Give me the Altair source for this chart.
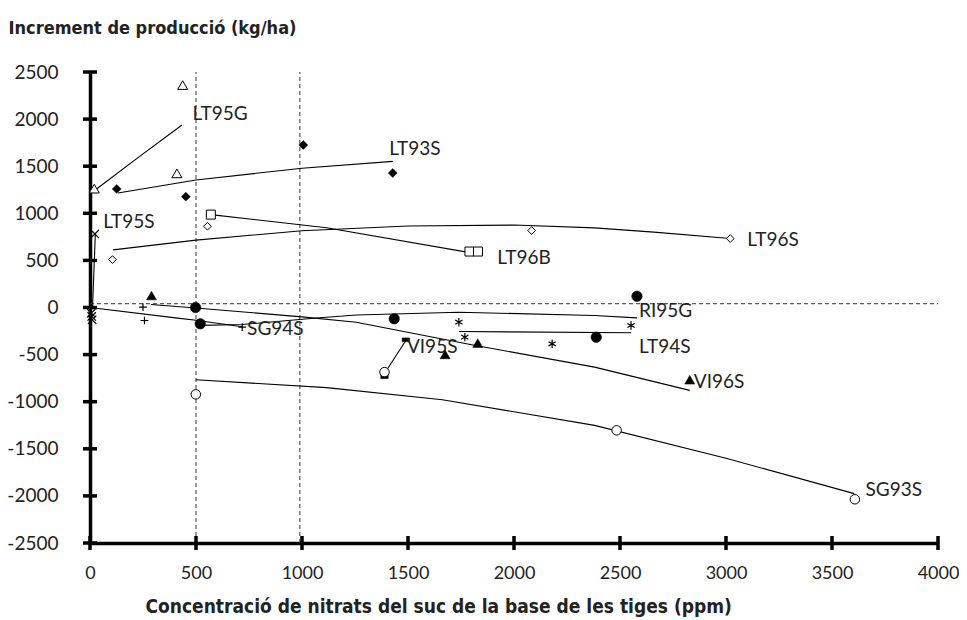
import altair as alt
import pandas as pd

# ---------------- data ----------------
x_ticks = [0, 500, 1000, 1500, 2000, 2500, 3000, 3500, 4000]
y_ticks = [-2500, -2000, -1500, -1000, -500, 0, 500, 1000, 1500, 2000, 2500]

# measured points per series
LT95G_x = [20, 410, 437]
LT95G_y = [1262, 1424, 2361]
LT93S_x = [126, 452, 1006, 1428]
LT93S_y = [1259, 1177, 1725, 1428]
LT96S_x = [106, 554, 2083, 3020]
LT96S_y = [509, 862, 817, 732]
LT96B_x = [570, 1790, 1830]
LT96B_y = [986, 594, 594]
LT95S_x = [6, 8, 10, 23]
LT95S_y = [-60, -95, -130, 781]
SG94S_x = [250, 257, 718]
SG94S_y = [3, -138, -209]
RI95G_x = [498, 520, 1435, 2388, 2580]
RI95G_y = [0, -173, -120, -315, 120]
LT94S_x = [1740, 1768, 2180, 2552]
LT94S_y = [-156, -315, -385, -191]
VI96S_x = [290, 1675, 1829, 2829]
VI96S_y = [127, -498, -378, -767]
VI95S_x = [1389, 1490]
VI95S_y = [-735, -343]
SG93S_x = [499, 1389, 2484, 3608]
SG93S_y = [-922, -686, -1304, -2036]

# trend lines per series
LT95G_tx = [20, 220, 434]
LT95G_ty = [1240, 1580, 1937]
LT93S_tx = [132, 500, 1000, 1428]
LT93S_ty = [1216, 1354, 1478, 1551]
LT96S_tx = [109, 500, 1000, 1500, 2000, 2380, 2660, 3020]
LT96S_ty = [612, 715, 815, 865, 875, 845, 800, 732]
LT96B_tx = [570, 1116, 1826]
LT96B_ty = [986, 846, 569]
LT95S_tx = [12, 25]
LT95S_ty = [0, 770]
SG94S_tx = [0, 413, 500, 718]
SG94S_ty = [0, -113, -135, -205]
RI95G_tx = [520, 718, 1069, 1256, 1740, 2380, 2580]
RI95G_ty = [-190, -180, -112, -80, -50, -85, -110]
LT94S_tx = [1740, 2552]
LT94S_ty = [-255, -268]
VI96S_tx = [288, 499, 1000, 1256, 1800, 2380, 2829]
VI96S_ty = [32, -5, -100, -156, -396, -633, -880]
VI95S_tx = [1389, 1490]
VI95S_ty = [-700, -350]
SG93S_tx = [499, 1116, 1662, 2380, 3000, 3605]
SG93S_ty = [-767, -851, -979, -1251, -1600, -1976]

# series labels (anchor in data units)
label_names = ["LT95G", "LT93S", "LT96B", "LT96S", "LT95S", "RI95G",
               "LT94S", "VI96S", "VI95S", "SG94S", "SG93S"]
label_x = [484, 1411, 1921, 3100, 62, 2590, 2590, 2848, 1495, 741, 3658]
label_y = [2057, 1686, 530, 721, 912, -42, -424, -795, -424, -223, -1941]

# reference dashed lines
ref_x = [500, 990, 0]
ref_x2 = [500, 990, 4000]
ref_y = [-2500, -2500, 40]
ref_y2 = [2500, 2500, 40]

# ---------------- styles ----------------
CROSS = "M-1,-1L1,1M-1,1L1,-1"
PLUS = "M-1,0L1,0M0,-1L0,1"
ASTER = "M-0.87,-0.5L0.87,0.5M-0.87,0.5L0.87,-0.5M0,-1L0,1"
BAR = "M-1,-0.5L1,-0.5L1,0.5L-1,0.5Z"

series = [
    ("LT95G", LT95G_x, LT95G_y, LT95G_tx, LT95G_ty, "triangle-up", "open", 100),
    ("LT93S", LT93S_x, LT93S_y, LT93S_tx, LT93S_ty, "diamond", "solid", 80),
    ("LT96S", LT96S_x, LT96S_y, LT96S_tx, LT96S_ty, "diamond", "open", 60),
    ("LT96B", LT96B_x, LT96B_y, LT96B_tx, LT96B_ty, "square", "open", 81),
    ("LT95S", LT95S_x, LT95S_y, LT95S_tx, LT95S_ty, CROSS, "line", 70),
    ("SG94S", SG94S_x, SG94S_y, SG94S_tx, SG94S_ty, PLUS, "line", 60),
    ("RI95G", RI95G_x, RI95G_y, RI95G_tx, RI95G_ty, "circle", "solid", 110),
    ("LT94S", LT94S_x, LT94S_y, LT94S_tx, LT94S_ty, ASTER, "line", 70),
    ("VI96S", VI96S_x, VI96S_y, VI96S_tx, VI96S_ty, "triangle-up", "solid", 100),
    ("VI95S", VI95S_x, VI95S_y, VI95S_tx, VI95S_ty, BAR, "solid", 56),
    ("SG93S", SG93S_x, SG93S_y, SG93S_tx, SG93S_ty, "circle", "open", 90),
]

LABEL_FONT = "Lato"
TITLE_FONT = "Liberation Sans Narrow, Arial Narrow, DejaVu Sans Condensed, sans-serif"

xs = alt.Scale(domain=[0, 4000], nice=False, zero=False)
ys = alt.Scale(domain=[-2500, 2500], nice=False, zero=False)

x_axis = alt.Axis(
    values=x_ticks, ticks=False, grid=False, domainColor="black", domainWidth=3.5,
    labelFont=LABEL_FONT, labelFontSize=18, labelColor="#222", labelPadding=21,
    labelExpr="'' + datum.value", labelFlush=False,
    title="Concentració de nitrats del suc de la base de les tiges (ppm)",
    titleFont=TITLE_FONT, titleFontSize=19, titleFontWeight="bold", titleColor="#222",
    titleX=55, titleY=63, titleAlign="left", titleBaseline="middle", titleAnchor="start",
)
y_axis = alt.Axis(
    values=y_ticks, ticks=False, grid=False, domainColor="black", domainWidth=3.5,
    labelFont=LABEL_FONT, labelFontSize=19, labelColor="#222", labelPadding=32,
    labelExpr="'' + datum.value", labelFlush=False,
    title="Increment de producció (kg/ha)",
    titleFont=TITLE_FONT, titleFontSize=18, titleFontWeight="bold", titleColor="#222",
    titleAngle=0, titleX=-82, titleY=-44, titleAlign="left", titleBaseline="middle",
    titleAnchor="start",
)

X = alt.X("x:Q", scale=xs, axis=x_axis)
Y = alt.Y("y:Q", scale=ys, axis=y_axis)

layers = []

# dashed reference lines
ref_df = pd.DataFrame({"x": ref_x, "y": ref_y, "x2": ref_x2, "y2": ref_y2})
layers.append(
    alt.Chart(ref_df).mark_rule(color="#333", strokeWidth=1, strokeDash=[4, 3]).encode(
        x=X, y=Y, x2="x2:Q", y2="y2:Q"
    )
)

# trend lines
rows = []
for name, px, py, tx, ty, shape, style, size in series:
    for i, (a, b) in enumerate(zip(tx, ty)):
        rows.append({"series": name, "x": a, "y": b, "o": i})
trend_df = pd.DataFrame(rows)
layers.append(
    alt.Chart(trend_df).mark_line(color="black", strokeWidth=1.1).encode(
        x=X, y=Y, detail="series:N", order="o:Q"
    )
)

# markers
for name, px, py, tx, ty, shape, style, size in series:
    df = pd.DataFrame({"x": px, "y": py})
    if style == "open":
        mk = alt.Chart(df).mark_point(shape=shape, size=size, filled=True, fill="white",
                                      stroke="black", strokeWidth=1, opacity=1)
    elif style == "solid":
        mk = alt.Chart(df).mark_point(shape=shape, size=size, filled=True, fill="black",
                                      stroke="black", strokeWidth=0.5, opacity=1)
    else:
        mk = alt.Chart(df).mark_point(shape=shape, size=size, filled=False,
                                      stroke="black", strokeWidth=1.2, opacity=1)
    layers.append(mk.encode(x=X, y=Y))

# crossing axis ticks
ytick_df = pd.DataFrame({"x": [0] * len(y_ticks), "y": y_ticks})
xtick_df = pd.DataFrame({"x": x_ticks, "y": [-2500] * len(x_ticks)})
layers.append(
    alt.Chart(ytick_df).mark_tick(orient="horizontal", size=14, thickness=3.5,
                                  color="black", opacity=1).encode(x=X, y=Y)
)
layers.append(
    alt.Chart(xtick_df).mark_tick(orient="vertical", size=14, thickness=3.5,
                                  color="black", opacity=1).encode(x=X, y=Y)
)

# series labels
lab_df = pd.DataFrame({"x": label_x, "y": label_y, "label": label_names})
layers.append(
    alt.Chart(lab_df).mark_text(align="left", baseline="middle", font=LABEL_FONT,
                                fontSize=19, color="#222").encode(x=X, y=Y, text="label:N")
)

chart = alt.layer(*layers).properties(
    width=848, height=471,
    autosize=alt.AutoSizeParams(type="none"),
    padding={"left": 82, "top": 64, "right": 21, "bottom": 75},
    background="white",
).configure_view(stroke=None)

chart.save("out.html", embed_options={"renderer": "svg", "actions": False})
